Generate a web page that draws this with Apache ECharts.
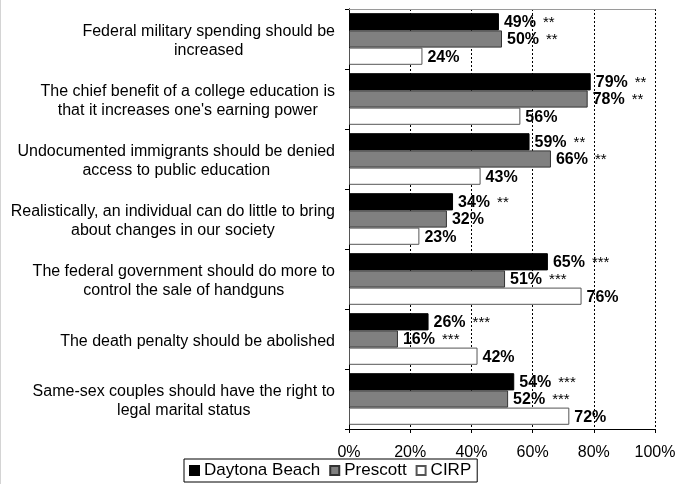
<!DOCTYPE html>
<html>
<head>
<meta charset="utf-8">
<script src="https://cdn.jsdelivr.net/npm/echarts@6/dist/echarts.min.js"></script>
<style>
html,body{margin:0;padding:0;background:#fff;}
#chart{width:691px;height:484px;}
</style>
</head>
<body>
<div id="chart"></div>
<script>
// ---- data ----
var categories = [
  "Federal military spending should be\nincreased",
  "The chief benefit of a college education is\nthat it increases one's earning power",
  "Undocumented immigrants should be denied\naccess to public education",
  "Realistically, an individual can do little to bring\nabout changes in our society",
  "The federal government should do more to\ncontrol the sale of handguns",
  "The death penalty should be abolished",
  "Same-sex couples should have the right to\nlegal marital status"
];
var seriesNames = ["Daytona Beach", "Prescott", "CIRP"];
var daytona  = [49, 79, 59, 34, 65, 26, 54];
var prescott = [50, 78, 66, 32, 51, 16, 52];
var cirp     = [24, 56, 43, 23, 76, 42, 72];
var daytonaSig  = ["**", "**", "**", "**", "***", "***", "***"];
var prescottSig = ["**", "**", "**", "", "***", "***", "***"];
var cirpSig     = ["", "", "", "", "", "", ""];
var xTicks = [0, 20, 40, 60, 80, 100];

// ---- chart ----
var FONT = "Arial, 'Liberation Sans', sans-serif";
function makeLabel(sigArr) {
  return {
    show: true,
    position: 'right',
    distance: 5,
    offset: [0, 1],
    formatter: function (p) {
      var sig = sigArr[p.dataIndex];
      return '{p|' + p.value + '%}' + (sig ? '{s|' + sig + '}' : '');
    },
    rich: {
      p: { fontSize: 16, fontWeight: 'bold', color: '#000', fontFamily: FONT, lineHeight: 18 },
      s: { fontSize: 15, color: '#000', fontFamily: FONT, lineHeight: 18, padding: [0, 0, 0, 7] }
    }
  };
}

var chart = echarts.init(document.getElementById('chart'), null, { renderer: 'canvas' });
var option = {
  animation: false,
  backgroundColor: '#fff',
  textStyle: { fontFamily: FONT },
  graphic: [{
    type: 'line', silent: true,
    shape: { x1: 0.5, y1: 0, x2: 0.5, y2: 484 },
    style: { stroke: '#d4d4d4', lineWidth: 1 }
  }],
  grid: { left: 349, top: 9, right: 36, bottom: 55, containLabel: false, outerBoundsMode: 'none' },
  legend: {
    data: seriesNames,
    left: 184, top: 459,
    orient: 'horizontal',
    icon: 'rect',
    itemWidth: 9, itemHeight: 9, itemGap: 9,
    borderColor: '#000', borderWidth: 1, borderRadius: 0,
    padding: [3, 6, 3, 5],
    textStyle: { fontSize: 17, color: '#000', fontFamily: FONT }
  },
  xAxis: [{
    type: 'value', min: xTicks[0], max: xTicks[xTicks.length - 1], interval: 20,
    axisLine: { show: true, lineStyle: { color: '#000', width: 1 } },
    axisTick: { show: true, length: 4, lineStyle: { color: '#000' } },
    axisLabel: { formatter: '{value}%', fontSize: 16, color: '#000', margin: 16, fontFamily: FONT },
    splitLine: { show: true, lineStyle: { color: '#000', type: [2, 2], width: 1 } }
  }, {
    type: 'value', position: 'top', min: 0, max: 100,
    axisLine: { show: true, lineStyle: { color: '#9a9a9a', width: 1 } },
    axisTick: { show: false }, axisLabel: { show: false }, splitLine: { show: false }
  }],
  yAxis: [{
    type: 'category', data: categories, inverse: true,
    axisLine: { show: true, lineStyle: { color: '#000', width: 1 } },
    axisTick: { show: true, length: 4, lineStyle: { color: '#000' } },
    axisLabel: {
      margin: 14, fontSize: 16, color: '#000', fontFamily: FONT, lineHeight: 19,
      padding: [5, 0, 0, 0],
      formatter: function (v) {
        return v.split('\n').map(function (l) { return '{c|' + l + '}'; }).join('\n');
      },
      rich: { c: { align: 'center', fontSize: 16, lineHeight: 19, color: '#000', fontFamily: FONT } }
    },
    splitLine: { show: false }
  }, {
    type: 'value', position: 'right', min: 0, max: 1,
    axisLine: { show: true, lineStyle: { color: '#000', width: 1 } },
    axisTick: { show: false }, axisLabel: { show: false }, splitLine: { show: false }
  }],
  series: [{
    name: seriesNames[0], type: 'bar', data: daytona,
    barGap: '0%', barCategoryGap: '14%',
    itemStyle: { color: '#000', borderColor: '#000', borderWidth: 1 },
    label: makeLabel(daytonaSig)
  }, {
    name: seriesNames[1], type: 'bar', data: prescott,
    barGap: '0%', barCategoryGap: '14%',
    itemStyle: { color: '#808080', borderColor: '#333', borderWidth: 1 },
    label: makeLabel(prescottSig)
  }, {
    name: seriesNames[2], type: 'bar', data: cirp,
    barGap: '0%', barCategoryGap: '14%',
    itemStyle: { color: '#fff', borderColor: '#555', borderWidth: 1 },
    label: makeLabel(cirpSig)
  }]
};
chart.setOption(option);
</script>
</body>
</html>
